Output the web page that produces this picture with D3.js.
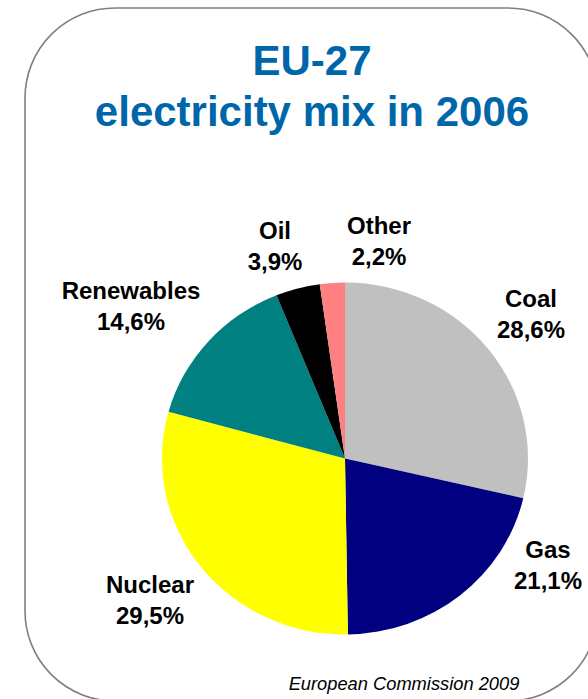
<!DOCTYPE html>
<html>
<head>
<meta charset="utf-8">
<script src="https://cdn.jsdelivr.net/npm/d3@7"></script>
<style>
  html, body { margin: 0; padding: 0; background: #fff; }
  svg { display: block; font-family: "Liberation Sans", Arial, Helvetica, sans-serif; }
</style>
</head>
<body>
<svg id="chart" width="588" height="699"></svg>
<script>
// Electricity generation by source, EU-27, 2006 (percent)
const sources = ["Coal", "Gas", "Nuclear", "Renewables", "Oil", "Other"];
const shares = [28.6, 21.1, 29.5, 14.6, 3.9, 2.2];
const shareLabels = ["28,6%", "21,1%", "29,5%", "14,6%", "3,9%", "2,2%"];
const sliceColors = ["#C0C0C0", "#000080", "#FFFF00", "#008080", "#000000", "#FF8080"];

const titleLines = ["EU-27", "electricity mix in 2006"];
const sourceNote = "European Commission 2009";

// Label anchors, relative to the pie centre (x, baseline of first line)
const labelAnchors = [
  [186, -152],  // Coal
  [203, 99],    // Gas
  [-195, 134],  // Nuclear
  [-214, -160], // Renewables
  [-70, -220],  // Oil
  [34, -225]    // Other
];

const W = 588, H = 699;
const cx = 345, cy = 458.5;
const rx = 183, ry = 176;

const svg = d3.select("#chart");

// Rounded frame
svg.append("rect")
  .attr("x", 25).attr("y", 8)
  .attr("width", 573).attr("height", 693)
  .attr("rx", 90).attr("ry", 90)
  .attr("fill", "#fff")
  .attr("stroke", "#808080")
  .attr("stroke-width", 1.6);

// Title
svg.append("g").selectAll("text")
  .data(titleLines)
  .join("text")
  .attr("x", 312)
  .attr("y", (d, i) => 75 + i * 51)
  .attr("text-anchor", "middle")
  .attr("font-size", 42)
  .attr("font-weight", "bold")
  .attr("fill", "#0066AA")
  .text(d => d);

// Pie, starting at 12 o'clock and running clockwise
const pie = d3.pie().sort(null).value(d => d).startAngle(0).endAngle(2 * Math.PI);
const arc = d3.arc().innerRadius(0).outerRadius(rx);
const arcs = pie(shares);

svg.append("g")
  .attr("transform", `translate(${cx},${cy}) scale(1,${ry / rx})`)
  .selectAll("path")
  .data(arcs)
  .join("path")
  .attr("d", arc)
  .attr("fill", (d, i) => sliceColors[i]);

// Category labels
const labels = svg.append("g")
  .attr("font-size", 24)
  .attr("font-weight", "bold")
  .attr("fill", "#000")
  .attr("text-anchor", "middle");

sources.forEach((name, i) => {
  const [dx, dy] = labelAnchors[i];
  const t = labels.append("text")
    .attr("x", cx + dx)
    .attr("y", cy + dy);
  t.append("tspan").attr("x", cx + dx).text(name);
  t.append("tspan").attr("x", cx + dx).attr("dy", 31).text(shareLabels[i]);
});

// Source note
svg.append("text")
  .attr("x", 404)
  .attr("y", 690)
  .attr("text-anchor", "middle")
  .attr("font-size", 18.3)
  .attr("font-style", "italic")
  .attr("fill", "#000")
  .text(sourceNote);
</script>
</body>
</html>
